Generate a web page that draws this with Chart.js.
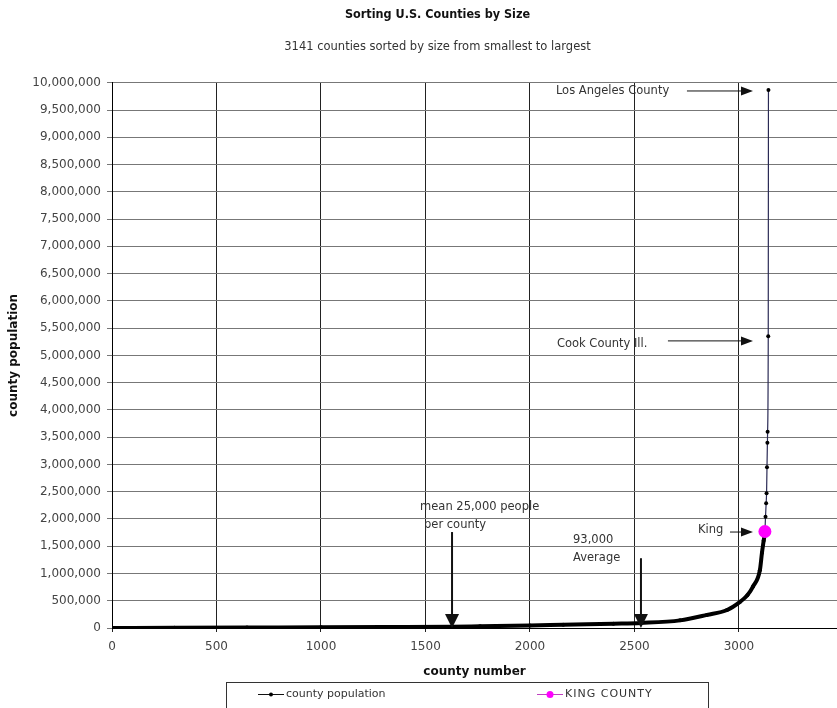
<!DOCTYPE html>
<html>
<head>
<meta charset="utf-8">
<script src="https://cdn.jsdelivr.net/npm/chart.js@4.4.1/dist/chart.umd.min.js"></script>
<style>
  html, body { margin: 0; padding: 0; background: #fff; overflow: hidden; }
</style>
</head>
<body>
<canvas id="countyChart" width="875" height="708"></canvas>
<script>
// counties sorted smallest -> largest
const countyNumbers = [1, 100, 300, 646, 1000, 1300, 1627, 1761, 2000, 2159, 2399, 2531, 2718, 2847, 2943, 3005, 3040, 3067, 3100, 3110, 3118, 3124, 3127, 3130, 3132, 3134, 3136, 3137, 3140, 3141];
const countyPopulations = [70, 2000, 5000, 9500, 14000, 19000, 25000, 32000, 45000, 60000, 80000, 93000, 140000, 240000, 330000, 480000, 600000, 760000, 1060000, 1380000, 1600000, 1770000, 2040000, 2290000, 2470000, 2950000, 3400000, 3600000, 5350000, 9870000];
const kingNumber = [3124];
const kingPopulation = [1770000];
const xTickValues = [0, 500, 1000, 1500, 2000, 2500, 3000];
const yStep = 500000;
const yMax = 10000000;

// notes drawn on the plot, placed in data units
const noteTexts = [
  { text: 'Los Angeles County', x: 2124, y: 9850000 },
  { text: 'Cook County Ill.', x: 2129, y: 5210000 },
  { text: 'King', x: 2804, y: 1800000 },
  { text: 'mean 25,000 people', x: 1474, y: 2220000 },
  { text: 'per county', x: 1493, y: 1890000 },
  { text: '93,000', x: 2206, y: 1610000 },
  { text: 'Average', x: 2206, y: 1280000 }
];
const noteArrows = [
  { x0: 2751, y0: 9850000, x1: 3067, y1: 9850000, big: false },
  { x0: 2660, y0: 5266000, x1: 3067, y1: 5266000, big: false },
  { x0: 2957, y0: 1760000, x1: 3067, y1: 1760000, big: false },
  { x0: 1627, y0: 1760000, x1: 1627, y1: 0, big: true },
  { x0: 2531, y0: 1280000, x1: 2531, y1: 0, big: true }
];

const FONT = '"DejaVu Sans", Verdana, sans-serif';
Chart.defaults.font.family = FONT;
Chart.defaults.color = '#444';

const notesPlugin = {
  id: 'notes',
  afterDatasetsDraw(chart) {
    const ctx = chart.ctx, xs = chart.scales.x, ys = chart.scales.y;
    ctx.save();
    ctx.fillStyle = '#333';
    ctx.font = '11.5px ' + FONT;
    ctx.textBaseline = 'middle';
    noteTexts.forEach(n => {
      ctx.fillText(n.text, xs.getPixelForValue(n.x), ys.getPixelForValue(n.y));
    });
    noteArrows.forEach(a => {
      const x0 = xs.getPixelForValue(a.x0), y0 = ys.getPixelForValue(a.y0);
      const x1 = xs.getPixelForValue(a.x1), y1 = ys.getPixelForValue(a.y1);
      const ang = Math.atan2(y1 - y0, x1 - x0);
      const len = a.big ? 14 : 12, half = a.big ? 7 : 4.5;
      const bx = x1 - Math.cos(ang) * len, by = y1 - Math.sin(ang) * len;
      ctx.strokeStyle = '#111';
      ctx.lineWidth = a.big ? 2 : 1;
      ctx.beginPath();
      ctx.moveTo(x0, y0);
      ctx.lineTo(bx, by);
      ctx.stroke();
      ctx.fillStyle = '#111';
      ctx.beginPath();
      ctx.moveTo(x1, y1);
      ctx.lineTo(bx - Math.sin(ang) * half, by + Math.cos(ang) * half);
      ctx.lineTo(bx + Math.sin(ang) * half, by - Math.cos(ang) * half);
      ctx.closePath();
      ctx.fill();
    });
    ctx.restore();
  }
};

const boxLegend = {
  id: 'boxLegend',
  afterDraw(chart) {
    const ctx = chart.ctx;
    const ds = chart.data.datasets;
    ctx.save();
    ctx.strokeStyle = '#333';
    ctx.lineWidth = 1;
    ctx.strokeRect(226.5, 682.5, 482, 30);
    const items = [{ x: 258, ds: ds[0], r: 2, sp: '0px' }, { x: 537, ds: ds[1], r: 3.5, sp: '1px' }];
    ctx.font = '11px ' + FONT;
    ctx.textBaseline = 'middle';
    items.forEach(it => {
      const y = 694.5;
      ctx.strokeStyle = it.ds.legendColor;
      ctx.lineWidth = 1;
      ctx.beginPath();
      ctx.moveTo(it.x, y);
      ctx.lineTo(it.x + 26, y);
      ctx.stroke();
      ctx.fillStyle = it.ds.pointBackgroundColor;
      ctx.beginPath();
      ctx.arc(it.x + 13, y, it.r, 0, Math.PI * 2);
      ctx.fill();
      ctx.fillStyle = '#333';
      ctx.letterSpacing = it.sp;
      ctx.fillText(it.ds.label, it.x + 28, y);
    });
    ctx.restore();
  }
};

new Chart(document.getElementById('countyChart').getContext('2d'), {
  type: 'line',
  data: {
    datasets: [
      {
        label: 'county population',
        data: countyNumbers.map((n, i) => ({ x: n, y: countyPopulations[i] })),
        borderColor: '#111',
        legendColor: '#111',
        backgroundColor: '#000',
        pointBackgroundColor: '#000',
        pointBorderWidth: 0,
        pointRadius: 2,
        borderWidth: 4,
        cubicInterpolationMode: 'monotone',
        segment: {
          borderWidth: c => c.p0.parsed.y < 1700000 ? 4 : 1.2,
          borderColor: c => c.p0.parsed.y < 1700000 ? '#000' : '#2a2a55'
        },
        order: 2
      },
      {
        label: 'KING COUNTY',
        data: kingNumber.map((n, i) => ({ x: n, y: kingPopulation[i] })),
        borderColor: '#ff00ff',
        legendColor: '#c040c0',
        backgroundColor: '#ff00ff',
        pointBackgroundColor: '#ff00ff',
        pointBorderWidth: 0,
        pointRadius: 6.5,
        showLine: false,
        order: 1
      }
    ]
  },
  options: {
    responsive: false,
    animation: false,
    layout: { padding: { left: 0, right: 0, top: 0, bottom: 30 } },
    plugins: {
      legend: { display: false },
      tooltip: { enabled: false },
      title: {
        display: true,
        text: 'Sorting U.S. Counties by Size',
        color: '#111',
        font: { family: '"DejaVu Sans Condensed", "DejaVu Sans", sans-serif', size: 12.5, weight: 'bold' },
        padding: { top: 7, bottom: 18 }
      },
      subtitle: {
        display: true,
        text: '3141 counties sorted by size from smallest to largest',
        color: '#333',
        font: { size: 11.5 },
        padding: { top: 0, bottom: 29 }
      }
    },
    scales: {
      x: {
        type: 'linear',
        min: 0,
        max: 3469,
        afterBuildTicks: s => { s.ticks = xTickValues.map(v => ({ value: v })); },
        afterFit: s => { s.height = 50; s.paddingRight = 0; s.paddingLeft = 0; },
        border: { color: '#000', width: 1 },
        grid: { color: '#222', lineWidth: 1, tickLength: 4, drawTicks: true },
        ticks: {
          color: '#444',
          font: { size: 12 },
          padding: 8,
          maxRotation: 0,
          callback: v => String(v)
        },
        title: {
          display: true,
          text: 'county number',
          color: '#111',
          font: { size: 12, weight: 'bold', lineHeight: 1 },
          padding: 0
        }
      },
      y: {
        min: 0,
        max: yMax,
        afterFit: s => { s.width = 112; },
        border: { color: '#000', width: 1 },
        grid: { color: '#777', lineWidth: 1, tickLength: 5 },
        ticks: {
          stepSize: yStep,
          color: '#444',
          font: { size: 12 },
          padding: 6,
          callback: v => v.toLocaleString('en-US')
        },
        title: {
          display: true,
          text: 'county population',
          color: '#111',
          font: { size: 12, weight: 'bold' },
          padding: { top: 7, bottom: 0 }
        }
      },
      // empty margin to the right of the plot (cropped off in the original)
      margin: {
        type: 'linear',
        position: 'right',
        afterFit: s => { s.width = 38; },
        border: { display: false },
        grid: { display: false, drawTicks: false },
        ticks: { display: false }
      }
    }
  },
  plugins: [notesPlugin, boxLegend]
});
</script>
</body>
</html>
